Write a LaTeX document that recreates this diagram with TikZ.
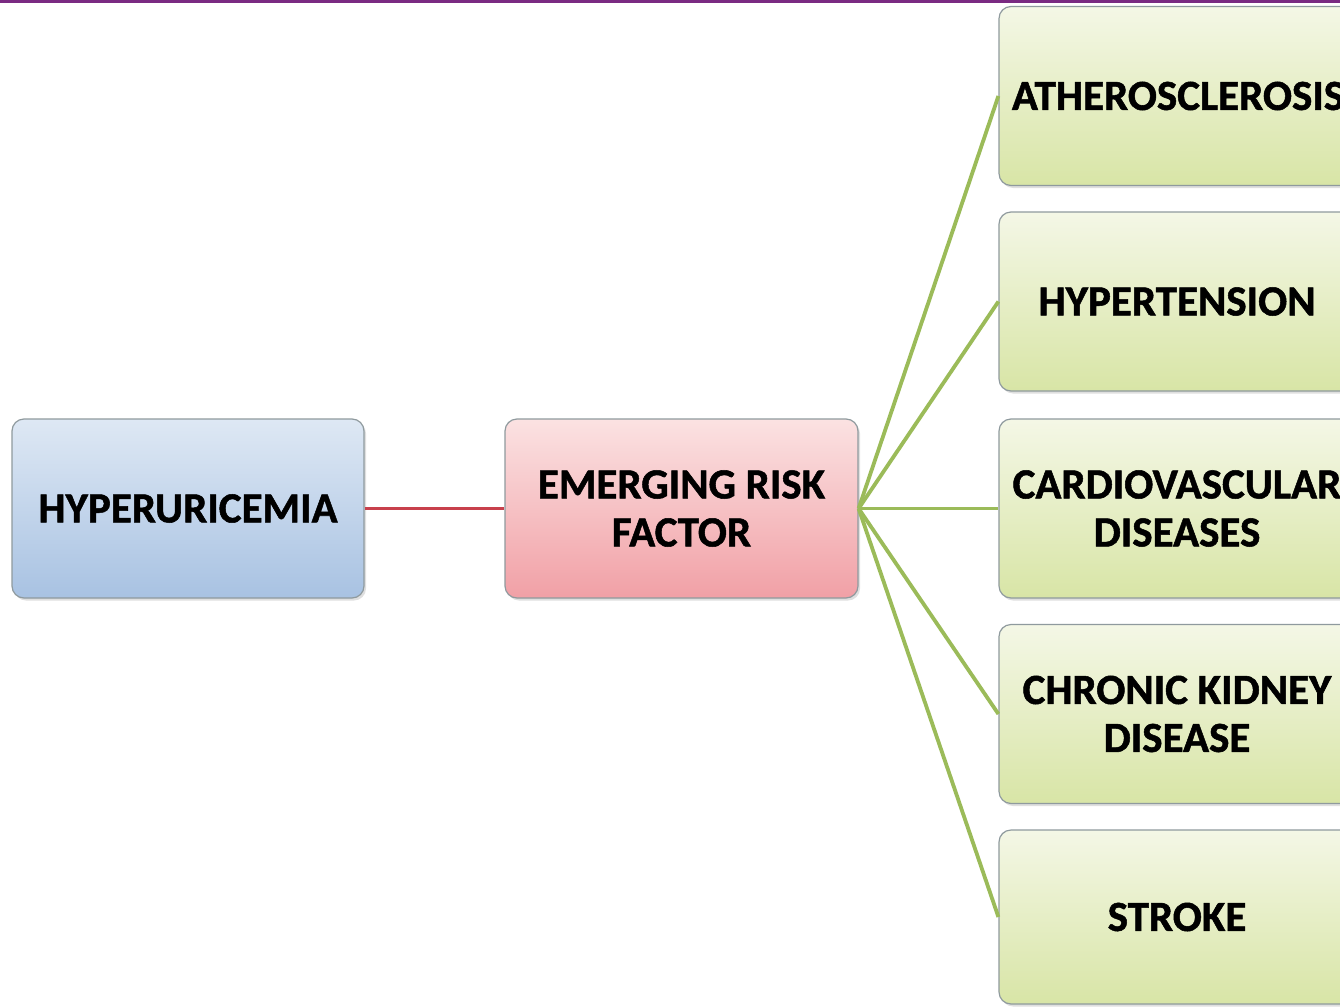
\documentclass[tikz,border=0pt]{standalone}
\usepackage{fontspec}
\setmainfont{Carlito}[BoldFeatures={FakeBold=1.2}]
\usetikzlibrary{shadows}
\definecolor{bluetop}{HTML}{DEE8F4}
\definecolor{bluebot}{HTML}{A8C2E2}
\definecolor{pinktop}{HTML}{FBE2E2}
\definecolor{pinkbot}{HTML}{F1A0A6}
\definecolor{greentop}{HTML}{F4F7E6}
\definecolor{greenbot}{HTML}{D8E5A6}
\definecolor{boxborder}{HTML}{8F9A9E}
\definecolor{redline}{HTML}{C8404C}
\definecolor{greenline}{HTML}{9BBB59}
\definecolor{topline}{HTML}{7A2A82}
\tikzset{
  box/.style={draw=boxborder, line width=1.2pt, rounded corners=12pt, inner sep=0pt,
    align=center, font=\fontsize{43}{48}\selectfont\bfseries, text=black,
    drop shadow={shadow xshift=2pt, shadow yshift=-2.5pt, opacity=0.25}},
  bluebox/.style={box, top color=bluetop, bottom color=bluebot, minimum width=352pt, minimum height=179pt},
  pinkbox/.style={box, top color=pinktop, bottom color=pinkbot, minimum width=353pt, minimum height=179pt},
  greenbox/.style={box, top color=greentop, bottom color=greenbot, minimum width=356pt, minimum height=179pt},
  redconn/.style={draw=redline, line width=3.8pt},
  greenconn/.style={draw=greenline, line width=3.8pt},
}
\begin{document}
\begin{tikzpicture}[x=1pt, y=-1pt]
\useasboundingbox (0,0) rectangle (1340,1006);
\fill[white] (0,0) rectangle (1340,1006);
\clip (0,0) rectangle (1340,1006);
\draw[topline, line width=2.6pt] (0,1.3) -- (1340,1.3);
\node[bluebox] (H) at (188,508.5) {HYPERURICEMIA};
\node[pinkbox] (E) at (681.5,508.5) {EMERGING RISK\\FACTOR};
\node[greenbox] (A) at (1177,96) {\hspace*{2pt}ATHEROSCLEROSIS};
\node[greenbox] (T) at (1177,301.5) {HYPERTENSION};
\node[greenbox] (C) at (1177,508.5) {CARDIOVASCULAR\\DISEASES};
\node[greenbox] (K) at (1177,714) {CHRONIC KIDNEY\\DISEASE};
\node[greenbox, minimum height=174pt] (S) at (1177,917) {STROKE};
\draw[redconn] (H.east) -- (E.west);
\draw[greenconn] (E.east) -- (A.west);
\draw[greenconn] (E.east) -- (T.west);
\draw[greenconn] (E.east) -- (C.west);
\draw[greenconn] (E.east) -- (K.west);
\draw[greenconn] (E.east) -- (S.west);
\end{tikzpicture}
\end{document}
